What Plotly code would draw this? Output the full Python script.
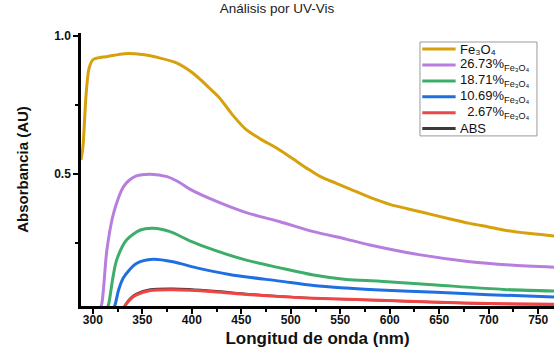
import plotly.graph_objects as go

# Wavelength (nm) / absorbance (AU) samples for each spectrum
wl_fe3o4 = [288, 290, 293, 296, 300, 304, 315, 332, 350, 368, 385, 401, 418, 428, 442, 455,
            470, 486, 500, 516, 530, 546, 560, 580, 600, 631, 660, 681, 700, 715, 740, 766]
abs_fe3o4 = [0.55, 0.60, 0.78, 0.88, 0.913, 0.919, 0.925, 0.935, 0.932, 0.919, 0.901, 0.865,
             0.81, 0.775, 0.71, 0.66, 0.625, 0.593, 0.56, 0.521, 0.49, 0.466, 0.445, 0.415,
             0.39, 0.363, 0.338, 0.321, 0.308, 0.297, 0.285, 0.275]

wl_2673 = [306, 309, 314, 320, 326, 331, 337, 344, 358, 375, 388, 398, 422, 455, 489, 523,
           556, 580, 631, 681, 722, 766]
abs_2673 = [0.0, 0.03, 0.22, 0.345, 0.415, 0.454, 0.478, 0.493, 0.499, 0.49, 0.468, 0.445,
            0.405, 0.36, 0.327, 0.291, 0.264, 0.243, 0.207, 0.182, 0.170, 0.162]

wl_1871 = [313, 316, 320, 324, 334, 348, 361, 378, 398, 422, 455, 489, 523, 556, 590,
           647, 715, 766]
abs_1871 = [0.0, 0.03, 0.12, 0.188, 0.261, 0.297, 0.303, 0.291, 0.258, 0.225, 0.188,
            0.16, 0.134, 0.118, 0.112, 0.098, 0.082, 0.076]

wl_1069 = [318, 322, 326, 331, 344, 361, 381, 405, 438, 489, 523, 556, 590, 647, 700, 766]
abs_1069 = [0.0, 0.022, 0.08, 0.125, 0.176, 0.191, 0.182, 0.16, 0.136, 0.112, 0.096, 0.087,
            0.08, 0.072, 0.063, 0.055]

wl_267 = [329, 333, 338, 344, 358, 381, 422, 455, 489, 523, 590, 650, 700, 766]
abs_267 = [0.0, 0.025, 0.047, 0.062, 0.078, 0.081, 0.074, 0.064, 0.056, 0.05, 0.043,
           0.036, 0.031, 0.028]

wl_abs = [329, 333, 338, 344, 358, 381, 422, 455, 489, 523, 590, 650, 700, 766]
abs_abs = [0.0, 0.028, 0.051, 0.066, 0.082, 0.085, 0.077, 0.066, 0.057, 0.05, 0.042,
           0.035, 0.030, 0.027]

# (legend label, x, y, colour, line width) -- ABS first so it sits beneath the red curve
series = [
    ("ABS", wl_abs, abs_abs, "#3a3a3a", 2.2),
    ("Fe₃O₄", wl_fe3o4, abs_fe3o4, "#D6A10C", 3),
    ("26.73%<sub>Fe₃O₄</sub>", wl_2673, abs_2673, "#B77EE0", 3),
    ("18.71%<sub>Fe₃O₄</sub>", wl_1871, abs_1871, "#3DAE6A", 3),
    ("10.69%<sub>Fe₃O₄</sub>", wl_1069, abs_1069, "#1F6FE3", 3),
    ("  2.67%<sub>Fe₃O₄</sub>", wl_267, abs_267, "#F04545", 3),
]
legend_order = [1, 2, 3, 4, 5, 0]

fig = go.Figure()
for name, x, y, color, w in series:
    fig.add_trace(go.Scatter(
        x=x, y=y, mode="lines", name=name, showlegend=False,
        line=dict(color=color, width=w, shape="spline", smoothing=0.8),
    ))

# Compact boxed legend in the upper right corner (paper coordinates)
lg_x0, lg_x1, lg_y0, lg_y1 = 0.7167, 0.964, 0.623, 0.967
row_top, row_step = 0.941, 0.0582
shapes = [dict(type="rect", xref="paper", yref="paper", x0=lg_x0, x1=lg_x1, y0=lg_y0, y1=lg_y1,
               line=dict(color="#9a9a9a", width=1), fillcolor="white", layer="above")]
annotations = []
for row, idx in enumerate(legend_order):
    name, _, _, color, _ = series[idx]
    yy = row_top - row * row_step
    shapes.append(dict(type="line", xref="paper", yref="paper", x0=0.7215, x1=0.792, y0=yy, y1=yy,
                       line=dict(color=color, width=3), layer="above"))
    annotations.append(dict(xref="paper", yref="paper", x=0.797, y=yy, xanchor="left",
                            yanchor="middle", text=name, showarrow=False,
                            font=dict(size=13, color="#111")))

x_ticks = list(range(300, 751, 50))
y_ticks = [0.5, 1.0]
y_labels = ["0.5", "1.0"]

fig.update_layout(
    width=554, height=355,
    margin=dict(l=81, r=0, t=33, b=49),
    paper_bgcolor="white", plot_bgcolor="white",
    font=dict(family="Liberation Sans, Arial", color="#111"),
    title=dict(text="Análisis por UV-Vis", x=0.5, xanchor="center", y=0.978, yanchor="middle",
               font=dict(size=13.5, color="#222")),
    showlegend=False,
    shapes=shapes,
    annotations=annotations,
    xaxis=dict(
        range=[288, 766], showgrid=False, zeroline=False,
        showline=True, linecolor="black", linewidth=2.5,
        ticks="outside", ticklen=5, tickwidth=2, tickcolor="black",
        tickvals=x_ticks, ticklabelstandoff=-4,
        tickfont=dict(size=12, family="Liberation Sans, Arial", weight="bold"),
        minor=dict(dtick=50, tick0=325, ticks="outside", ticklen=3, tickwidth=2, tickcolor="black"),
        title=dict(text="<b>Longitud de onda (nm)</b>", font=dict(size=17), standoff=6),
    ),
    yaxis=dict(
        range=[0.022, 1.01], showgrid=False, zeroline=False,
        showline=True, linecolor="black", linewidth=2.5,
        ticks="outside", ticklen=5, tickwidth=2, tickcolor="black",
        tickvals=y_ticks, ticktext=y_labels,
        tickfont=dict(size=12, family="Liberation Sans, Arial", weight="bold"),
        minor=dict(tickvals=[0.25, 0.75], ticks="outside", ticklen=3, tickwidth=2, tickcolor="black"),
        title=dict(text="<b>Absorbancia (AU)</b>", font=dict(size=15), standoff=22),
    ),
)

fig.write_html("out.html")
